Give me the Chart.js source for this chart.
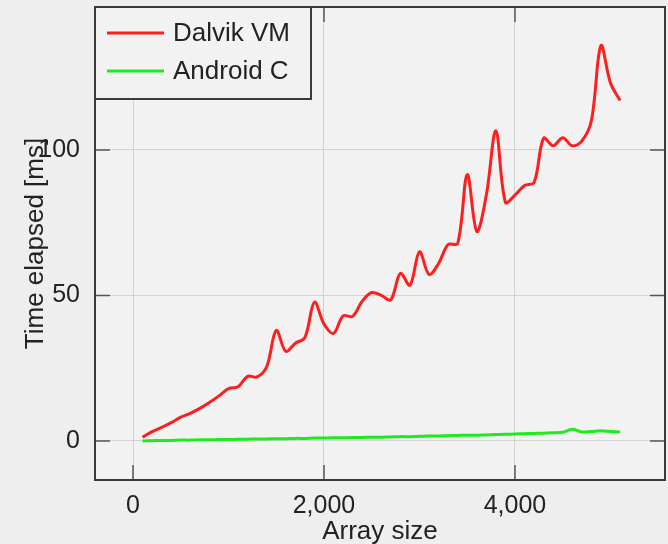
<!DOCTYPE html>
<html>
<head>
<meta charset="utf-8">
<script src="https://cdn.jsdelivr.net/npm/chart.js@4.4.1/dist/chart.umd.min.js"></script>
<style>
  html, body { margin: 0; padding: 0; background: #eeeeee; }
  #wrap { width: 668px; height: 544px; }
</style>
</head>
<body>
<div id="wrap"><canvas id="timing" width="668" height="544"></canvas></div>
<script>
// array sizes tested
var arraySizes = [100, 200, 300, 400, 500, 600, 700, 800, 900, 1000,
  1100, 1200, 1300, 1400, 1500, 1600, 1700, 1800, 1900, 2000,
  2100, 2200, 2300, 2400, 2500, 2600, 2700, 2800, 2900, 3000,
  3100, 3200, 3300, 3400, 3500, 3600, 3700, 3800, 3900, 4000,
  4100, 4200, 4300, 4400, 4500, 4600, 4700, 4800, 4900, 5000, 5100];

// ms
var dalvikMs = [1.3, 3.2, 4.7, 6.3, 8.2, 9.5, 11.2, 13.2, 15.5, 18.0,
  18.6, 22.2, 22.0, 25.5, 38.0, 30.8, 33.6, 35.5, 47.7, 40.2,
  37.0, 43.0, 42.8, 48.0, 51.0, 50.0, 48.5, 57.6, 53.5, 65.0,
  57.2, 61.0, 67.5, 67.8, 91.5, 72.0, 84.5, 106.5, 82.0, 84.5,
  87.8, 88.8, 104.0, 101.4, 104.2, 101.4, 103.0, 110.0, 135.8, 123.0, 117.0];

var androidCMs = [0.0, 0.1, 0.2, 0.2, 0.3, 0.3, 0.4, 0.4, 0.5, 0.5,
  0.6, 0.6, 0.7, 0.7, 0.8, 0.8, 0.9, 0.9, 1.0, 1.0,
  1.1, 1.1, 1.2, 1.2, 1.3, 1.3, 1.4, 1.5, 1.5, 1.6,
  1.7, 1.7, 1.8, 1.9, 2.0, 2.0, 2.1, 2.2, 2.3, 2.4,
  2.5, 2.6, 2.7, 2.8, 3.0, 4.0, 3.1, 3.3, 3.5, 3.3, 3.1];

var seriesNames = ["Dalvik VM", "Android C"];
var xTicks = [0, 2000, 4000];
var yTicks = [0, 50, 100];

var FONT = "'Liberation Sans', Arial, Helvetica, sans-serif";
var INK = '#222222';

function pts(ys) {
    return arraySizes.map(function (x, i) { return {x: x, y: ys[i]}; });
}

// light plot background
var plotBg = {
    id: 'plotBg',
    beforeDraw: function (chart) {
        var a = chart.chartArea, c = chart.ctx;
        c.save();
        c.fillStyle = '#f2f2f2';
        c.fillRect(a.left, a.top, a.right - a.left, a.bottom - a.top);
        c.restore();
    }
};

// box around the plot + inward tick marks on all 4 sides
var frame = {
    id: 'frame',
    afterDatasetsDraw: function (chart) {
        var a = chart.chartArea, c = chart.ctx;
        var xs = chart.scales.x, ys = chart.scales.y;
        c.save();
        c.strokeStyle = '#555';
        c.lineWidth = 1.5;
        c.beginPath();
        xTicks.forEach(function (t) {
            var px = xs.getPixelForValue(t);
            c.moveTo(px, a.bottom); c.lineTo(px, a.bottom - 15);
            c.moveTo(px, a.top); c.lineTo(px, a.top + 15);
        });
        yTicks.forEach(function (t) {
            var py = ys.getPixelForValue(t);
            c.moveTo(a.left, py); c.lineTo(a.left + 15, py);
            c.moveTo(a.right, py); c.lineTo(a.right - 15, py);
        });
        c.stroke();
        c.strokeStyle = '#3a3a3a';
        c.lineWidth = 2;
        c.strokeRect(a.left, a.top, a.right - a.left, a.bottom - a.top);
        c.restore();
    }
};

// boxed legend in the upper left corner
var boxLegend = {
    id: 'boxLegend',
    afterDraw: function (chart) {
        var a = chart.chartArea, c = chart.ctx;
        var w = 216, h = 92;
        c.save();
        c.fillStyle = '#f2f2f2';
        c.fillRect(a.left, a.top, w, h);
        c.strokeStyle = '#3a3a3a';
        c.lineWidth = 2;
        c.strokeRect(a.left, a.top, w, h);
        c.font = '26px ' + FONT;
        c.textBaseline = 'alphabetic';
        chart.data.datasets.forEach(function (ds, i) {
            var y = a.top + 26 + i * 38;
            c.strokeStyle = ds.borderColor;
            c.lineWidth = 3;
            c.beginPath();
            c.moveTo(a.left + 12, y);
            c.lineTo(a.left + 69, y);
            c.stroke();
            c.fillStyle = INK;
            c.fillText(ds.label, a.left + 78, y + 8);
        });
        c.restore();
    }
};

var ctx = document.getElementById('timing').getContext('2d');

var chart = new Chart(ctx, {
    type: 'line',
    data: {
        datasets: [
            {
                label: seriesNames[0],
                data: pts(dalvikMs),
                borderColor: 'rgb(255,30,30)',
                borderWidth: 3,
                pointRadius: 0,
                tension: 0.35,
                fill: false
            },
            {
                label: seriesNames[1],
                data: pts(androidCMs),
                borderColor: 'rgb(30,235,30)',
                borderWidth: 3,
                pointRadius: 0,
                tension: 0.35,
                fill: false
            }
        ]
    },
    options: {
        responsive: false,
        animation: false,
        layout: { padding: { top: 7, right: 3, left: 0, bottom: 0 } },
        plugins: {
            legend: { display: false },
            tooltip: { enabled: false }
        },
        scales: {
            x: {
                type: 'linear',
                min: -398,
                max: 5571,
                afterBuildTicks: function (s) { s.ticks = xTicks.map(function (v) { return {value: v}; }); },
                afterFit: function (s) { s.height = 64; s.paddingLeft = 0; s.paddingRight = 0; },
                ticks: {
                    color: INK,
                    padding: 11,
                    font: { family: FONT, size: 25 },
                    callback: function (v) { return Number(v).toLocaleString('en-US'); }
                },
                grid: { color: '#d2d2d2', lineWidth: 1, drawTicks: false },
                border: { display: false },
                title: {
                    display: true,
                    text: 'Array size',
                    color: INK,
                    font: { family: FONT, size: 26, lineHeight: 1 },
                    padding: { top: 0, bottom: -1 }
                }
            },
            y: {
                min: -13.4,
                max: 149.1,
                afterBuildTicks: function (s) { s.ticks = yTicks.map(function (v) { return {value: v}; }); },
                afterFit: function (s) { s.width = 95; s.paddingTop = 0; s.paddingBottom = 0; },
                ticks: {
                    color: INK,
                    padding: 15,
                    font: { family: FONT, size: 25 }
                },
                grid: { color: '#d2d2d2', lineWidth: 1, drawTicks: false },
                border: { display: false },
                title: {
                    display: true,
                    text: 'Time elapsed [ms]',
                    color: INK,
                    font: { family: FONT, size: 26, lineHeight: 1.2 },
                    padding: { top: 20, bottom: 0 }
                }
            }
        }
    },
    plugins: [plotBg, frame, boxLegend]
});
</script>
</body>
</html>
